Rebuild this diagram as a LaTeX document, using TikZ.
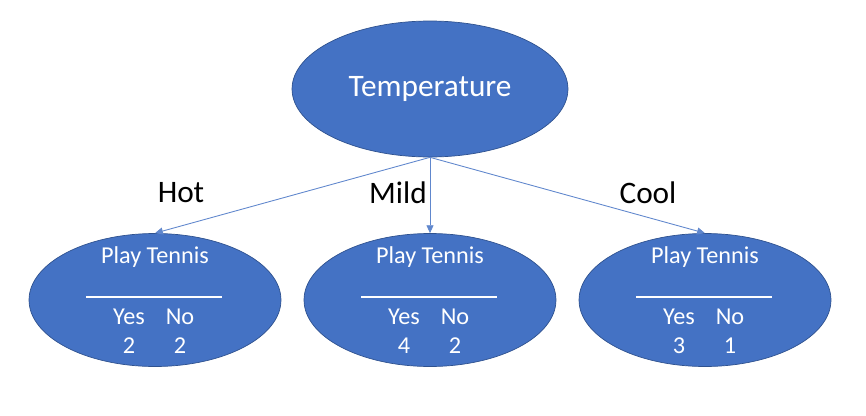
\documentclass[tikz,border=0pt]{standalone}
\usepackage{fontspec}
\setmainfont{Carlito}
\usetikzlibrary{shapes.geometric,arrows.meta}
\definecolor{nodeblue}{HTML}{4472C4}
\definecolor{rimblue}{HTML}{2F528F}
\tikzset{
  leaf/.style={ellipse, fill=nodeblue, draw=rimblue, line width=0.4pt,
    minimum width=5.04cm, minimum height=2.66cm, inner sep=0pt},
  branch/.style={draw=nodeblue!85, line width=0.5pt,
    -{Triangle[length=4.5pt,width=4pt]}},
  wtext/.style={text=white, font=\fontsize{13.8}{15}\selectfont},
  btext/.style={font=\fontsize{17.8}{20}\selectfont},
}
\begin{document}
\begin{tikzpicture}[x=0.02cm, y=-0.02cm]
		\useasboundingbox (0,0) rectangle (866,416);
		\node[ellipse, fill=nodeblue, draw=rimblue, line width=0.4pt,
			minimum width=5.52cm, minimum height=2.72cm, text=white,
			font=\fontsize{17.8}{20}\selectfont] (root) at (430,89) {Temperature};
		% leaves
		\foreach \n/\x/\yes/\no in {hot/155/2/2, mild/430/4/2, cool/705/3/1} {
			\node[leaf] (\n) at (\x,300) {};
			\node[wtext] (\n-title) at (\x,257) {Play Tennis};
			\draw[white, line width=1.1pt] (\x-69,297) -- (\x+67,297);
			\node[wtext] (\n-yes) at (\x-26,317) {Yes};
			\node[wtext] (\n-no) at (\x+25,317) {No};
			\node[wtext] (\n-a) at (\x-26,346) {\yes};
			\node[wtext] (\n-b) at (\x+25,346) {\no};
			\draw[branch] (root.south) -- (\n.north);
		}
		\node[btext] (hot-lab) at (181,193) {Hot};
		\node[btext] (mild-lab) at (398,193) {Mild};
		\node[btext] (cool-lab) at (648,193) {Cool};
\end{tikzpicture}
\end{document}
